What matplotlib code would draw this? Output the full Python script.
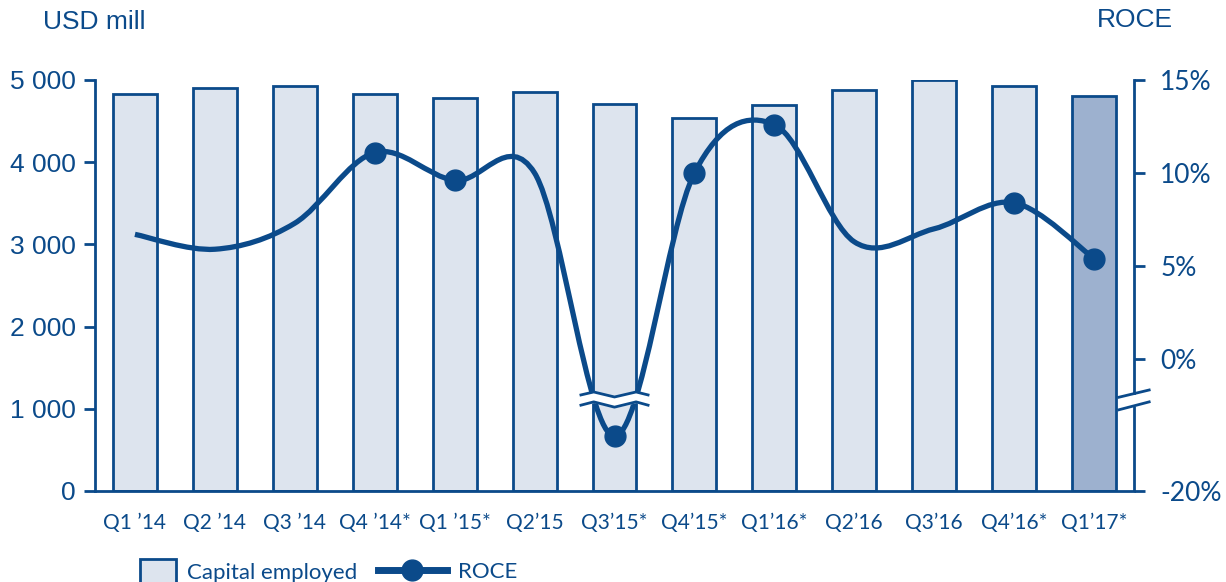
import numpy as np
import matplotlib.pyplot as plt
from matplotlib.path import Path
from matplotlib.patches import PathPatch, Patch
from matplotlib.lines import Line2D

# -----------------------------
# DATA
# -----------------------------
quarters = ["Q1 \u201914", "Q2 \u201914", "Q3 \u201914", "Q4 \u201914*", "Q1 \u201915*",
            "Q2\u201915", "Q3\u201915*", "Q4\u201915*", "Q1\u201916*", "Q2\u201916",
            "Q3\u201916", "Q4\u201916*", "Q1\u201917*"]
capital_employed = [4830, 4900, 4925, 4830, 4780, 4855, 4710, 4540, 4695, 4880, 5000, 4925, 4805]
roce = [6.7, 5.9, 7.3, 11.1, 9.6, 10.0, -11.7, 10.0, 12.6, 6.3, 7.0, 8.4, 5.4]
roce_marked = [3, 4, 6, 7, 8, 11, 12]

BLUE = "#0B4A8A"
BAR = "#DDE4EE"
BAR_LAST = "#9DB1CF"

# broken right axis: below 0 the scale is compressed
K = 0.355


def fwd(v):
    v = np.asarray(v, dtype=float)
    return np.where(v >= 0, v, v * K)


def inv(u):
    u = np.asarray(u, dtype=float)
    return np.where(u >= 0, u, u / K)


fig = plt.figure(figsize=(12.26, 5.82), dpi=100)
ax = fig.add_axes([95 / 1226, 91 / 582, 1039 / 1226, 411 / 582])
x = np.arange(len(quarters))

colors = [BAR] * (len(quarters) - 1) + [BAR_LAST]
ax.bar(x, capital_employed, width=0.55, color=colors, edgecolor=BLUE, linewidth=2, zorder=2)
ax.set_xlim(-0.5, len(quarters) - 0.5)
ax.set_ylim(0, 5000)
ax.set_yticks([0, 1000, 2000, 3000, 4000, 5000])
ax.set_yticklabels(["0", "1 000", "2 000", "3 000", "4 000", "5 000"],
                   fontfamily="Liberation Sans", fontsize=19, color=BLUE)
ax.set_xticks(x)
ax.set_xticklabels(quarters, fontfamily="Lato", fontsize=15, color=BLUE)
ax.tick_params(axis="y", direction="out", length=8, width=2, color=BLUE, pad=6)
ax.tick_params(axis="x", length=0, pad=16)
for s in ["top", "right"]:
    ax.spines[s].set_visible(False)
for s in ["left", "bottom"]:
    ax.spines[s].set_color(BLUE)
    ax.spines[s].set_linewidth(2)

# -----------------------------
# ROCE on broken right axis
# -----------------------------
ax2 = ax.twinx()
ax2.set_yscale("function", functions=(fwd, inv))
ax2.set_ylim(-20, 15)
ax2.set_yticks([-20, 0, 5, 10, 15])
ax2.set_yticklabels(["-20%", "0%", "5%", "10%", "15%"], fontfamily="Lato",
                    fontsize=19, color=BLUE)
ax2.yaxis.set_minor_locator(plt.NullLocator())
ax2.tick_params(axis="y", direction="out", length=8, width=2, color=BLUE, pad=11)
for s in ["top", "left", "bottom"]:
    ax2.spines[s].set_visible(False)
ax2.spines["right"].set_color(BLUE)
ax2.spines["right"].set_linewidth(2)
ax2.spines["right"].set_bounds(-5.2, 15)
xr = len(quarters) - 0.5
ax2.plot([xr, xr], [-20, -7.1], color=BLUE, lw=2, clip_on=False, solid_capstyle="butt")
ax2.plot([xr - 0.19, xr + 0.19], [-5.8, -4.7], color=BLUE, lw=2, clip_on=False)
ax2.plot([xr - 0.19, xr + 0.19], [-7.7, -6.5], color=BLUE, lw=2, clip_on=False)

# smooth line (Catmull-Rom Bezier in scaled space)
P = np.column_stack([x, fwd(roce)])
Pe = np.vstack([P[0], P, P[-1]])
verts = [tuple(P[0])]
codes = [Path.MOVETO]
for i in range(len(P) - 1):
    p0, p1, p2, p3 = Pe[i], Pe[i + 1], Pe[i + 2], Pe[i + 3]
    c1 = p1 + (p2 - p0) / 6
    c2 = p2 - (p3 - p1) / 6
    verts += [tuple(c1), tuple(c2), tuple(p2)]
    codes += [Path.CURVE4] * 3
curve = PathPatch(Path(verts, codes), facecolor="none", edgecolor=BLUE, lw=3.8,
                  transform=ax2.transLimits + ax2.transAxes, zorder=3)
ax2.add_patch(curve)

ax2.plot(x[roce_marked], np.array(roce)[roce_marked], "o", color=BLUE,
         markersize=15, zorder=5)

# break mark on the line at Q3'15
bx = 6 + np.array([-0.42, -0.26, 0.0, 0.27, 0.42])
upper = np.array([-5.45, -5.0, -5.76, -5.0, -5.45])
lower = np.array([-7.0, -6.5, -7.3, -6.5, -7.0])
ax2.fill_between(bx, lower, upper, color="white", zorder=4)
ax2.plot(bx, upper, color=BLUE, lw=2, zorder=4)
ax2.plot(bx, lower, color=BLUE, lw=2, zorder=4)

# -----------------------------
# TITLES / LEGEND
# -----------------------------
fig.text(43 / 1226, 1 - 22 / 582, "USD mill", fontfamily="Liberation Sans", fontsize=19,
         color=BLUE, va="center", ha="left")
fig.text(1135 / 1226, 1 - 20 / 582, "ROCE", fontfamily="Liberation Sans", fontsize=19,
         color=BLUE, va="center", ha="center")

leg1 = fig.legend([Patch(facecolor=BAR, edgecolor=BLUE, linewidth=2)], ["Capital employed"],
                  loc="center left", bbox_to_anchor=(140 / 1226, 10 / 582), frameon=False,
                  prop={"family": "Lato", "size": 16}, labelcolor=BLUE, borderpad=0,
                  borderaxespad=0, handlelength=1.6, handleheight=1.4, handletextpad=0.5)
leg2 = fig.legend([Line2D([0], [0], color=BLUE, lw=5, marker="o", markersize=15)], ["ROCE"],
                  loc="center left", bbox_to_anchor=(378 / 1226, 10 / 582), frameon=False,
                  prop={"family": "Lato", "size": 16}, labelcolor=BLUE, borderpad=0,
                  borderaxespad=0, handlelength=3.1, handletextpad=0.5)

fig.savefig("out.png", dpi=100)
